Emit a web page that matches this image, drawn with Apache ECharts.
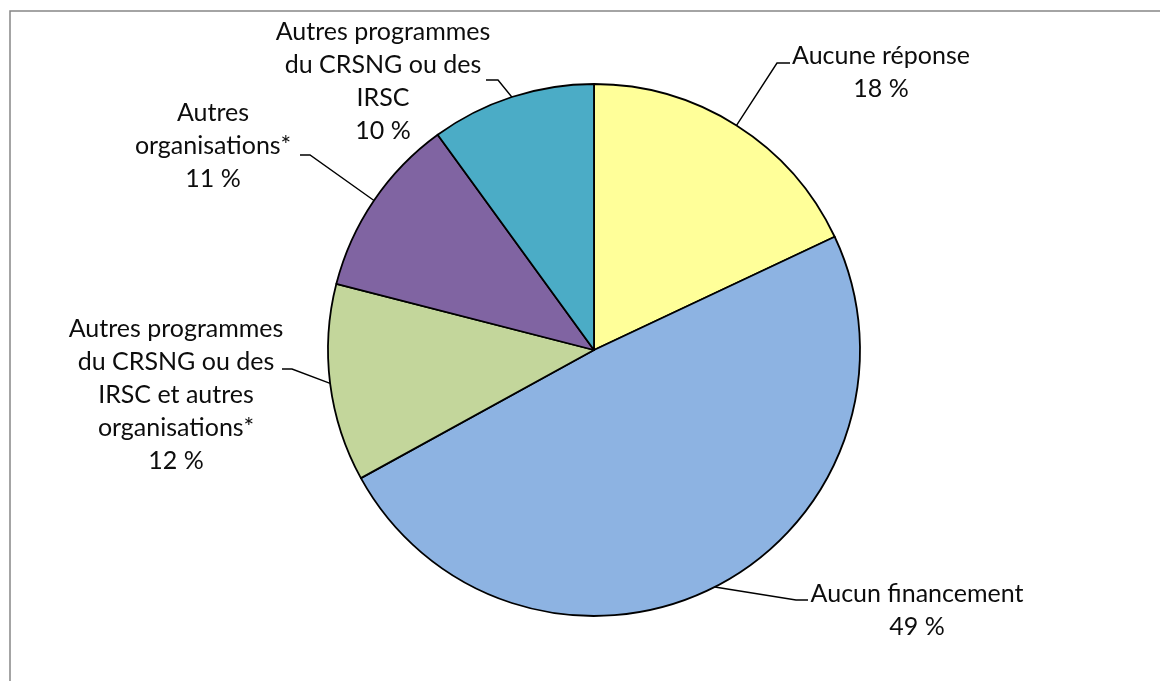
<!DOCTYPE html>
<html>
<head>
<meta charset="utf-8">
<script src="https://cdn.jsdelivr.net/npm/echarts@6/dist/echarts.min.js"></script>
<style>
html,body{margin:0;padding:0;background:#fff;}
#chart{width:1160px;height:681px;}
</style>
</head>
<body>
<div id="chart"></div>
<script>
const categories = [
  'Aucune réponse',
  'Aucun financement',
  'Autres programmes\ndu CRSNG ou des\nIRSC et autres\norganisations*',
  'Autres\norganisations*',
  'Autres programmes\ndu CRSNG ou des\nIRSC'
];
const values = [18, 49, 12, 11, 10];
const colors = ['#FFFF99', '#8DB3E2', '#C3D69B', '#8064A2', '#4BACC6'];

// label placement (text block centre) and leader elbows, per slice
const labelPlaces = [
  { x: 881, y: 72,  elbow: [777, 63],  end: [790, 63] },
  { x: 917, y: 610, elbow: [796, 600], end: [808, 600] },
  { x: 176, y: 395, elbow: [292, 369], end: [282, 369] },
  { x: 213, y: 146, elbow: [310, 155], end: [300, 155] },
  { x: 383, y: 81,  elbow: [498, 80],  end: [486, 80] }
];

const chart = echarts.init(document.getElementById('chart'), null, { renderer: 'canvas' });
chart.setOption({
  animation: false,
  backgroundColor: '#ffffff',
  graphic: [{
    type: 'rect',
    shape: { x: 10, y: 11, width: 1300, height: 800 },
    style: { fill: 'none', stroke: '#868686', lineWidth: 1.5 },
    silent: true
  }],
  series: [{
    type: 'pie',
    center: [594, 350],
    radius: 266,
    startAngle: 90,
    clockwise: true,
    avoidLabelOverlap: false,
    data: categories.map((c, i) => ({ name: c, value: values[i], itemStyle: { color: colors[i] } })),
    itemStyle: { borderColor: '#000', borderWidth: 1.8 },
    label: {
      show: true,
      position: 'outside',
      formatter: '{b}\n{c} %',
      fontFamily: 'Lato',
      fontSize: 25,
      lineHeight: 33,
      color: '#0d0d0d',
      align: 'center'
    },
    labelLine: { show: true, lineStyle: { color: '#000', width: 1.4 }, length: 20, length2: 10 },
    labelLayout: function (params) {
      const p = labelPlaces[params.dataIndex];
      const pts = params.labelLinePoints;
      const start = pts && pts[0] ? pts[0] : p.elbow;
      return {
        x: p.x, y: p.y, align: 'center', verticalAlign: 'middle',
        labelLinePoints: [start, p.elbow, p.end]
      };
    },
    emphasis: { disabled: true }
  }]
});
</script>
</body>
</html>
